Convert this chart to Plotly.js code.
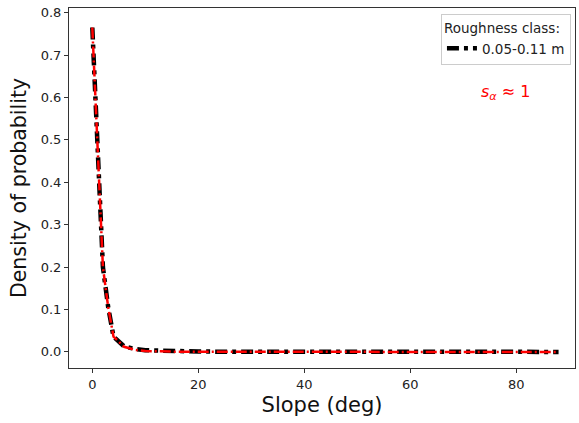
<!DOCTYPE html>
<html>
<head>
<meta charset="utf-8">
<script src="https://cdn.plot.ly/plotly-3.0.1.min.js"></script>
<style>html,body{margin:0;padding:0;background:#fff;}#chart{width:579px;height:423px;}</style>
</head>
<body>
<div id="chart"></div>
<script>
var slopeDeg = [0, 1, 2, 3, 4, 6, 8, 10, 12, 14, 16, 18, 20, 25, 30, 35, 40, 45, 50, 55, 60, 65, 70, 75, 80, 85, 88];
var densityObserved = [0.765, 0.475, 0.20, 0.105, 0.036, 0.013, 0.007, 0.004, 0.003, 0.002, 0.0015, 0.001, 0.0008, 0.0005, 0.0003, 0.0002, 0.0001, 0.0001, 0, 0, 0, 0, 0, 0, 0, 0, 0];
var densityModel = [0.765, 0.475, 0.20, 0.105, 0.036, 0.012, 0.005, 0.002, 0.001, 0.0005, 0.0003, 0.0002, 0.0001, 0, 0, 0, 0, 0, 0, 0, 0, 0, 0, 0, 0, 0, 0];
var xTicks = [0, 20, 40, 60, 80];
var yTicks = [0.0, 0.1, 0.2, 0.3, 0.4, 0.5, 0.6, 0.7, 0.8];
var legendTitle = "Roughness class:";
var seriesName = "0.05-0.11 m";
var noteText = "<i>s<sub>α</sub></i> ≈ 1";

var traces = [
  {x: slopeDeg, y: densityObserved, mode: "lines", name: seriesName,
   line: {color: "#000000", width: 4.5, dash: "12px,5px,4px,5px"}},
  {x: slopeDeg, y: densityModel, mode: "lines", name: "model", showlegend: false,
   line: {color: "#ff0000", width: 2.5, dash: "11px,3px,2px,3px"}}
];
var font = "DejaVu Sans, sans-serif";
var layout = {
  width: 579, height: 423,
  margin: {l: 69, r: 4, t: 8, b: 55},
  paper_bgcolor: "#fff", plot_bgcolor: "#fff",
  font: {family: font, color: "#222", size: 13},
  showlegend: true,
  legend: {x: 0.992, y: 0.982, xanchor: "right", yanchor: "top",
    bordercolor: "#cccccc", borderwidth: 1, bgcolor: "rgba(255,255,255,0.8)",
    itemwidth: 30,
    title: {text: legendTitle, side: "top", font: {family: font, size: 13.5, color: "#222"}},
    font: {family: font, size: 13.5, color: "#222"}},
  xaxis: {range: [-4.4, 91.1], tickvals: xTicks, ticktext: xTicks.map(String),
    showgrid: false, zeroline: false, showline: true, mirror: true, linecolor: "#333", linewidth: 1,
    ticks: "outside", ticklen: 4, tickcolor: "#333",
    tickfont: {family: font, size: 13, color: "#222"},
    title: {text: "Slope (deg)", font: {family: font, size: 21, color: "#111"}, standoff: 6}},
  yaxis: {range: [-0.038, 0.811], tickvals: yTicks, ticktext: yTicks.map(function(v){return v.toFixed(1);}),
    showgrid: false, zeroline: false, showline: true, mirror: true, linecolor: "#333", linewidth: 1,
    ticks: "outside", ticklen: 4, tickcolor: "#333",
    tickfont: {family: font, size: 13, color: "#222"},
    title: {text: "Density of probability", font: {family: font, size: 20.5, color: "#111"}, standoff: 8}},
  annotations: [{xref: "paper", yref: "paper", x: 0.862, y: 0.765, xanchor: "center", yanchor: "middle",
    text: noteText, showarrow: false, font: {family: font, size: 16, color: "#ff0000"}}]
};
Plotly.newPlot("chart", traces, layout, {displayModeBar: false, staticPlot: true});
</script>
</body>
</html>
